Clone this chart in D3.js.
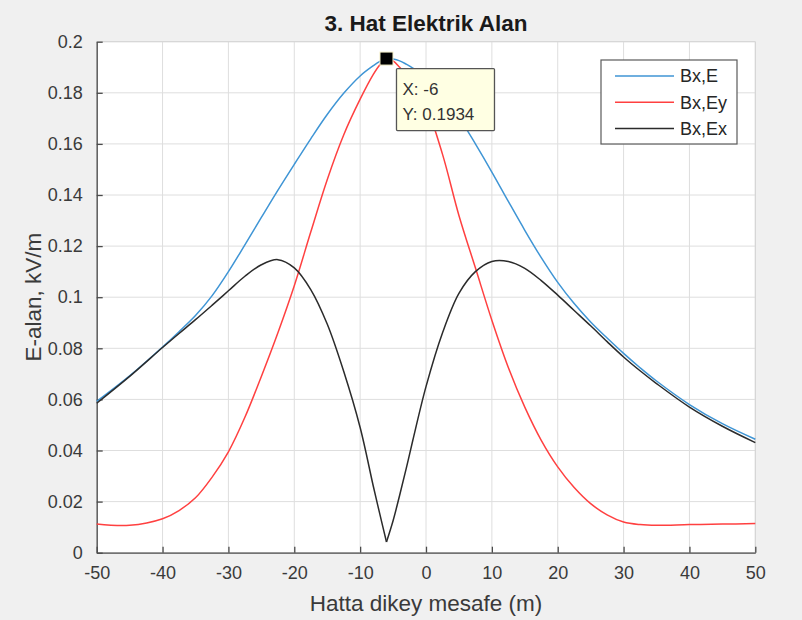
<!DOCTYPE html>
<html>
<head>
<meta charset="utf-8">
<script src="https://cdn.jsdelivr.net/npm/d3@7"></script>
<style>
  html, body { margin: 0; padding: 0; background: #f0f0f0; }
  svg { display: block; font-family: "Liberation Sans", Arial, Helvetica, sans-serif; }
</style>
</head>
<body>
<svg id="chart" width="802" height="620"></svg>
<script>
// ---- data ----
const xPos = [-50, -45, -40, -37.5, -35, -32.5, -30, -27.5, -25, -22.5, -20, -17.5, -15, -12.5, -10, -8, -7, -6, -5, -4, -3, -2, 0, 2.5, 5, 7.5, 10, 12.5, 15, 17.5, 20, 22.5, 25, 27.5, 30, 32.5, 35, 40, 45, 50];
const seriesE  = [0.0592, 0.0692, 0.0805, 0.0865, 0.0928, 0.1005, 0.1100, 0.1205, 0.1312, 0.1418, 0.1520, 0.1620, 0.1715, 0.1798, 0.1866, 0.1906, 0.1923, 0.1934, 0.1932, 0.1925, 0.1912, 0.1897, 0.1862, 0.1795, 0.1705, 0.1600, 0.1490, 0.1375, 0.1262, 0.1155, 0.1058, 0.0975, 0.0903, 0.0840, 0.0780, 0.0724, 0.0672, 0.0580, 0.0505, 0.0444];
const seriesEy = [0.0112, 0.0107, 0.0133, 0.0165, 0.0215, 0.0295, 0.0395, 0.0530, 0.0690, 0.0860, 0.1045, 0.1255, 0.1460, 0.1635, 0.1775, 0.1872, 0.1910, 0.1934, 0.1925, 0.1900, 0.1870, 0.1835, 0.1750, 0.1560, 0.1320, 0.1115, 0.0910, 0.0725, 0.0570, 0.0440, 0.0336, 0.0255, 0.0192, 0.0148, 0.0120, 0.0110, 0.0107, 0.0110, 0.0112, 0.0114];
const seriesEx = [0.0585, 0.0690, 0.0803, 0.0858, 0.0912, 0.0968, 0.1025, 0.1082, 0.1127, 0.1147, 0.1115, 0.1030, 0.0895, 0.0710, 0.0490, 0.0260, 0.0150, 0.0042, 0.0125, 0.0225, 0.0330, 0.0440, 0.0650, 0.0860, 0.1015, 0.1100, 0.1140, 0.1140, 0.1113, 0.1065, 0.1008, 0.0948, 0.0888, 0.0826, 0.0766, 0.0712, 0.0662, 0.0570, 0.0495, 0.0431];
const seriesNames = ["Bx,E", "Bx,Ey", "Bx,Ex"];
const xTicks = [-50, -40, -30, -20, -10, 0, 10, 20, 30, 40, 50];
const yTicks = [0, 0.02, 0.04, 0.06, 0.08, 0.1, 0.12, 0.14, 0.16, 0.18, 0.2];
const tipPoint = { x: -6, y: 0.1934 };
const titleText = "3. Hat Elektrik Alan";
const xLabelText = "Hatta dikey mesafe (m)";
const yLabelText = "E-alan, kV/m";

// ---- layout ----
const svg = d3.select("#chart");
const L = 96.7, R = 755.3, T = 41.7, B = 552.7;
const x = d3.scaleLinear().domain([-50, 50]).range([L, R]);
const y = d3.scaleLinear().domain([0, 0.2]).range([B, T]);
const colors = ["#3f95d5", "#ff4040", "#2b2b2b"];
const seriesAll = [seriesE, seriesEy, seriesEx];

svg.append("rect").attr("width", 802).attr("height", 620).attr("fill", "#f0f0f0");
svg.append("rect").attr("x", L).attr("y", T).attr("width", R - L).attr("height", B - T).attr("fill", "#ffffff");

// grid
const grid = svg.append("g").attr("stroke", "#dedede").attr("stroke-width", 1);
xTicks.forEach(t => grid.append("line").attr("x1", x(t)).attr("x2", x(t)).attr("y1", T).attr("y2", B));
yTicks.forEach(t => grid.append("line").attr("x1", L).attr("x2", R).attr("y1", y(t)).attr("y2", y(t)));
svg.append("line").attr("x1", L).attr("x2", R).attr("y1", T).attr("y2", T).attr("stroke", "#d4d4d4");
svg.append("line").attr("x1", R).attr("x2", R).attr("y1", T).attr("y2", B).attr("stroke", "#d4d4d4");

// axes (inward ticks)
const fmtY = d => String(+d.toFixed(2));
const xAxis = d3.axisBottom(x).tickValues(xTicks).tickSizeInner(-6).tickSizeOuter(0).tickPadding(14).tickFormat(d => String(d));
const yAxis = d3.axisLeft(y).tickValues(yTicks).tickSizeInner(-6).tickSizeOuter(0).tickPadding(14).tickFormat(fmtY);
const gx = svg.append("g").attr("transform", `translate(0,${B})`).call(xAxis);
const gy = svg.append("g").attr("transform", `translate(${L},0)`).call(yAxis);
[gx, gy].forEach(g => {
  g.select(".domain").attr("stroke", "#4a4a4a").attr("stroke-width", 1.3);
  g.selectAll(".tick line").attr("stroke", "#4a4a4a").attr("stroke-width", 1.3);
  g.selectAll(".tick text").attr("fill", "#3a3a3a").attr("font-size", "18px")
    .attr("font-family", "Liberation Sans, Arial, sans-serif");
});
gx.selectAll(".tick text").attr("dy", "0.71em");

// lines (smooth; Ex split at its minimum so the notch stays sharp)
const lineGen = d3.line().x(d => x(d[0])).y(d => y(d[1])).curve(d3.curveCatmullRom.alpha(0.5));
seriesAll.forEach((s, i) => {
  const pts = xPos.map((xv, k) => [xv, s[k]]);
  let parts = [pts];
  if (i === 2) {
    const m = d3.minIndex(s);
    parts = [pts.slice(0, m + 1), pts.slice(m)];
  }
  parts.forEach(p => {
    svg.append("path").datum(p).attr("d", lineGen)
      .attr("fill", "none").attr("stroke", colors[i]).attr("stroke-width", 1.5)
      .attr("stroke-linejoin", "round");
  });
});

// title and labels
svg.append("text").attr("x", (L + R) / 2).attr("y", 31).attr("text-anchor", "middle")
  .attr("font-size", "22.5px").attr("font-weight", "bold").attr("fill", "#1a1a1a").text(titleText);
svg.append("text").attr("x", (L + R) / 2).attr("y", 611).attr("text-anchor", "middle")
  .attr("font-size", "22.5px").attr("fill", "#3a3a3a").text(xLabelText);
svg.append("text").attr("transform", `translate(41,${(T + B) / 2}) rotate(-90)`).attr("text-anchor", "middle")
  .attr("font-size", "22.5px").attr("fill", "#3a3a3a").text(yLabelText);

// legend
const lg = svg.append("g");
lg.append("rect").attr("x", 601).attr("y", 60).attr("width", 136).attr("height", 84)
  .attr("fill", "#ffffff").attr("stroke", "#5a5a5a").attr("stroke-width", 1.2);
seriesNames.forEach((n, i) => {
  const yy = 76 + i * 26.2;
  lg.append("line").attr("x1", 615).attr("x2", 674).attr("y1", yy).attr("y2", yy)
    .attr("stroke", colors[i]).attr("stroke-width", 1.5);
  lg.append("text").attr("x", 680).attr("y", yy).attr("dy", "0.36em").attr("font-size", "18px")
    .attr("fill", "#262626").text(n);
});

// data tip
const px = x(tipPoint.x), py = y(tipPoint.y);
svg.append("rect").attr("x", px - 6.5).attr("y", py - 6.5).attr("width", 13).attr("height", 13)
  .attr("fill", "#000000").attr("stroke", "#f5f0c8").attr("stroke-width", 1);
const tip = svg.append("g");
tip.append("rect").attr("x", px + 10).attr("y", py + 10).attr("width", 98).attr("height", 62)
  .attr("fill", "#ffffe3").attr("stroke", "#555555").attr("stroke-width", 1.3).attr("rx", 1);
tip.append("text").attr("x", px + 16).attr("y", py + 36).attr("font-size", "17px").attr("fill", "#333")
  .text("X: " + tipPoint.x);
tip.append("text").attr("x", px + 16).attr("y", py + 61).attr("font-size", "17px").attr("fill", "#333")
  .text("Y: " + tipPoint.y);
</script>
</body>
</html>
